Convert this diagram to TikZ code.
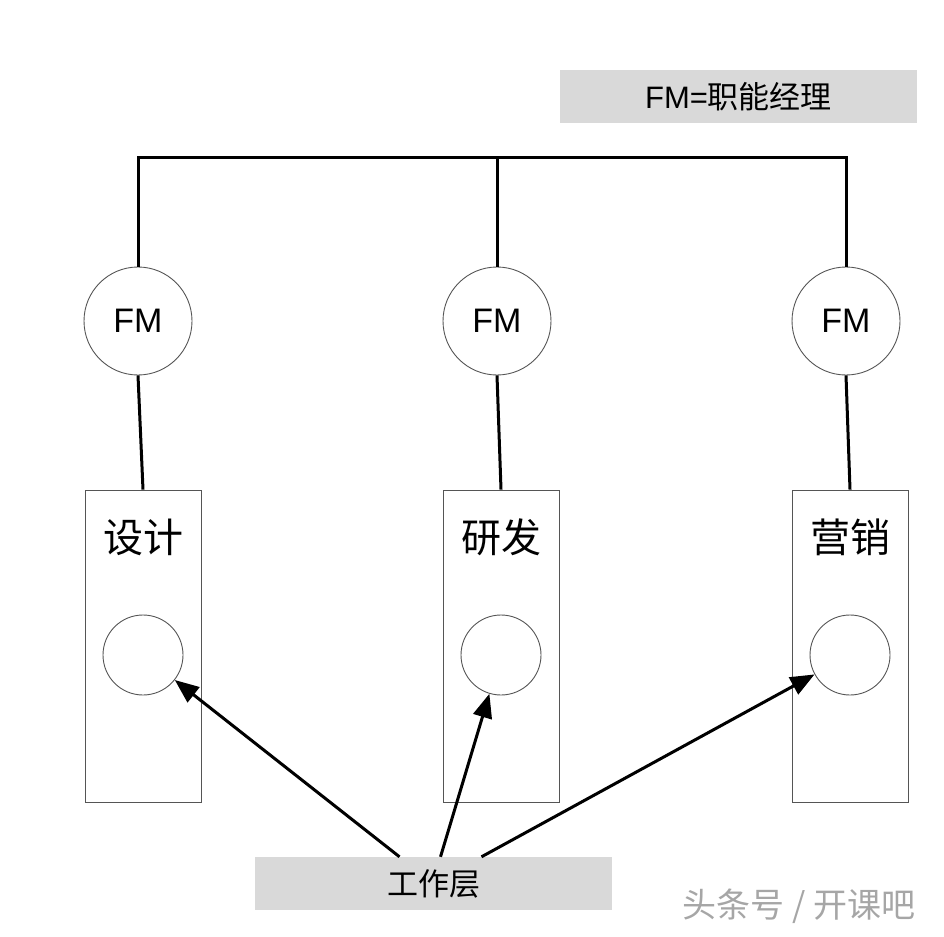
\documentclass[tikz,border=0pt]{standalone}
\usepackage{fontspec}
\setmainfont{Noto Sans CJK SC}
\newfontfamily\latinfont{Liberation Sans}
\usetikzlibrary{positioning}
\usetikzlibrary{calc}
\usetikzlibrary{arrows.meta}
\definecolor{legendgray}{HTML}{D9D9D9}
\definecolor{thingray}{HTML}{555555}
\tikzset{>={Triangle[length=24pt,width=19pt]}}
\tikzset{link/.style={line width=3pt,black}}
\tikzset{fmnode/.style={draw=thingray,line width=0.9pt,circle,minimum size=108pt,inner sep=0pt,font=\fontsize{34}{38}\selectfont\latinfont}}
\tikzset{dept/.style={draw=thingray,line width=0.9pt,minimum width=116pt,minimum height=312pt,inner sep=0pt}}
\tikzset{slot/.style={draw=thingray,line width=0.9pt,circle,minimum size=80pt,inner sep=0pt}}
\tikzset{greybar/.style={fill=legendgray,minimum width=357pt,minimum height=53pt,inner sep=0pt,font=\fontsize{31}{34}\selectfont}}

\begin{document}
\begin{tikzpicture}[x=1pt,y=-1pt]
\useasboundingbox (0,0) rectangle (944,936);

\node[greybar] (legend) at (738.5,96.5) {{\latinfont FM=}职能经理};

\node[fmnode] (fm1) at (138,321) {FM};
\node[fmnode] (fm2) at (497,321) {FM};
\node[fmnode] (fm3) at (846,321) {FM};
\coordinate (top) at (497,158);

\node[dept] (d1) at (143,646) {};
\node[dept] (d2) at (501,646) {};
\node[dept] (d3) at (850,646) {};
\node[font=\fontsize{40}{44}\selectfont] (t1) at (143,537) {设计};
\node[font=\fontsize{40}{44}\selectfont] (t2) at (501,537) {研发};
\node[font=\fontsize{40}{44}\selectfont] (t3) at (850,537) {营销};
\node[slot] (c1) at (143,655) {};
\node[slot] (c2) at (501,655) {};
\node[slot] (c3) at (850,655) {};

\node[greybar] (work) at (433.5,883.5) {工作层};
\coordinate (w1) at ($(work.north)+(-34,0)$);
\coordinate (w2) at ($(work.north)+(7,0)$);
\coordinate (w3) at ($(work.north)+(48,0)$);

\draw[link] (fm1.north) |- (top) -| (fm3.north);
\draw[link] (fm2.north) -- (top);
\draw[link] (fm1.south) -- (d1.north);
\draw[link] (fm2.south) -- (d2.north);
\draw[link] (fm3.south) -- (d3.north);

\draw[link,->] (w1) -- (c1);
\draw[link,->] (w2) -- (c2);
\draw[link,->] (w3) -- (c3);

\node[text=gray!70,font=\fontsize{34}{38}\selectfont] (mark) at (799,906) {头条号 / 开课吧};
\end{tikzpicture}
\end{document}
